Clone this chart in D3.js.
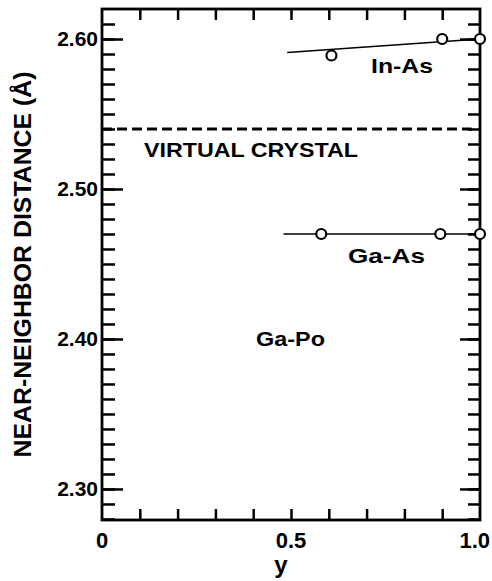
<!DOCTYPE html>
<html>
<head>
<meta charset="utf-8">
<script src="https://cdn.jsdelivr.net/npm/d3@7"></script>
<style>
  html, body { margin: 0; padding: 0; background: #fff; }
  svg { display: block; }
  text { font-family: "Liberation Sans", Arial, sans-serif; fill: #000; }
</style>
</head>
<body>
<svg id="chart" width="492" height="581"></svg>
<script>
// Near-neighbour bond lengths vs. composition y
const inAsY = [0.607, 0.90, 1.0];
const inAsD = [2.589, 2.600, 2.600];
const inAsFit = [[0.49, 2.591], [1.0, 2.600]];

const gaAsY = [0.58, 0.895, 1.0];
const gaAsD = [2.470, 2.470, 2.470];
const gaAsFit = [[0.48, 2.470], [1.0, 2.470]];

const virtualCrystal = 2.54;

const yTickValues = [2.30, 2.40, 2.50, 2.60];
const xTickValues = [0, 0.5, 1.0];
const xTickLabels = ["0", "0.5", "1.0"];

const svg = d3.select("#chart");
const x0 = 102, x1 = 480;
const y0 = 520, y1 = 9;

const x = d3.scaleLinear().domain([0, 1]).range([x0, x1]);
const y = d3.scaleLinear().domain([2.2793, 2.62]).range([y0, y1]);

const minorY = d3.range(228, 262).map(v => v / 100);
const minorX = d3.range(1, 10).map(v => v / 10);

const styleAxis = sel => {
  sel.select(".domain").remove();
  sel.selectAll(".tick line").attr("stroke", "#000").attr("stroke-width", 2.5);
};

// inward ticks on all four sides
svg.append("g").attr("transform", `translate(${x0},0)`)
  .call(d3.axisLeft(y).tickValues(minorY).tickSize(-13).tickFormat(""))
  .call(styleAxis);
svg.append("g").attr("transform", `translate(${x0},0)`)
  .call(d3.axisLeft(y).tickValues(yTickValues).tickSize(-21).tickPadding(4)
    .tickFormat(d3.format(".2f")))
  .call(styleAxis)
  .call(s => s.selectAll(".tick text")
    .attr("font-family", "Liberation Sans, Arial, sans-serif")
    .attr("font-size", 21).attr("font-weight", "bold").attr("fill", "#000"));

svg.append("g").attr("transform", `translate(${x1},0)`)
  .call(d3.axisRight(y).tickValues(minorY).tickSize(-12).tickFormat(""))
  .call(styleAxis);
svg.append("g").attr("transform", `translate(${x1},0)`)
  .call(d3.axisRight(y).tickValues(yTickValues).tickSize(-20).tickFormat(""))
  .call(styleAxis);

svg.append("g").attr("transform", `translate(0,${y0})`)
  .call(d3.axisBottom(x).tickValues(minorX).tickSize(-11).tickFormat(""))
  .call(styleAxis);
svg.append("g").attr("transform", `translate(0,${y1})`)
  .call(d3.axisTop(x).tickValues(minorX).tickSize(-11).tickFormat(""))
  .call(styleAxis);

// frame
svg.append("rect")
  .attr("x", x0).attr("y", y1)
  .attr("width", x1 - x0).attr("height", y0 - y1)
  .attr("fill", "none").attr("stroke", "#000").attr("stroke-width", 2.8);

// x tick labels
svg.append("g").selectAll("text").data(xTickValues).join("text")
  .attr("x", d => d === 1 ? x(d) + 10 : x(d))
  .attr("y", y0 + 28)
  .attr("text-anchor", d => d === 1 ? "end" : "middle")
  .attr("font-size", 22).attr("font-weight", "bold")
  .text((d, i) => xTickLabels[i]);

// axis titles
svg.append("text")
  .attr("x", x(0.5) - 10).attr("y", 573)
  .attr("text-anchor", "middle")
  .attr("font-size", 24).attr("font-weight", "bold")
  .text("y");

svg.append("text")
  .attr("transform", `translate(31,${(y0 + y1) / 2}) rotate(-90)`)
  .attr("text-anchor", "middle")
  .attr("font-size", 23).attr("font-weight", "bold")
  .attr("textLength", 386).attr("lengthAdjust", "spacingAndGlyphs")
  .text("NEAR-NEIGHBOR DISTANCE (Å)");

// virtual crystal reference
svg.append("line")
  .attr("x1", x0).attr("x2", x(0.978))
  .attr("y1", y(virtualCrystal)).attr("y2", y(virtualCrystal))
  .attr("stroke", "#000").attr("stroke-width", 2.8)
  .attr("stroke-dasharray", "10,5");

const line = d3.line().x(d => x(d[0])).y(d => y(d[1]));

// fitted lines
svg.append("path").attr("d", line(inAsFit))
  .attr("fill", "none").attr("stroke", "#000").attr("stroke-width", 1.7);
svg.append("path").attr("d", line(gaAsFit))
  .attr("fill", "none").attr("stroke", "#000").attr("stroke-width", 1.7);

// data points
const drawPts = (ys, ds) => svg.append("g").selectAll("circle")
  .data(ys.map((v, i) => [v, ds[i]])).join("circle")
  .attr("cx", d => x(d[0])).attr("cy", d => y(d[1]))
  .attr("r", 5).attr("fill", "#fff")
  .attr("stroke", "#000").attr("stroke-width", 2.2);
drawPts(inAsY, inAsD);
drawPts(gaAsY, gaAsD);

// annotations
const label = (t, xp, yp, len) => svg.append("text")
  .attr("x", xp).attr("y", yp).attr("font-size", 21).attr("font-weight", "bold")
  .attr("textLength", len).attr("lengthAdjust", "spacingAndGlyphs")
  .text(t);
label("In-As", 371, 73, 62);
label("VIRTUAL CRYSTAL", 144, 157, 214);
label("Ga-As", 348, 263, 77);
label("Ga-Po", 256, 346, 69);
</script>
</body>
</html>
